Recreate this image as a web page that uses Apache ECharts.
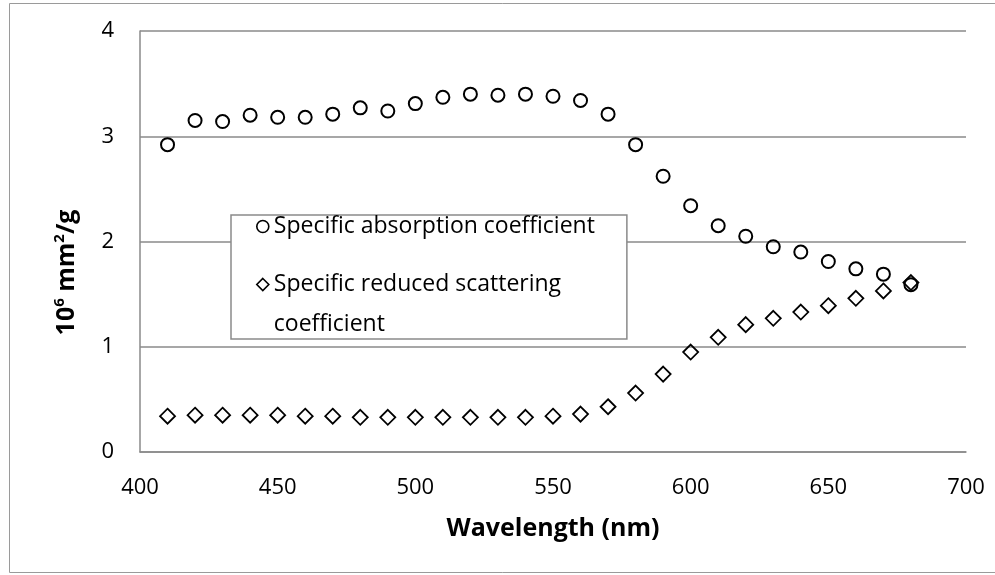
<!DOCTYPE html>
<html>
<head>
<meta charset="utf-8">
<title>Specific coefficients vs wavelength</title>
<script src="https://cdn.jsdelivr.net/npm/echarts@6/dist/echarts.min.js"></script>
<style>
  html, body { margin: 0; padding: 0; background: #fff; }
  #chart { width: 995px; height: 575px; }
</style>
</head>
<body>
<div id="chart"></div>
<script>
// Wavelength samples (nm)
const wavelengths = [410, 420, 430, 440, 450, 460, 470, 480, 490, 500, 510, 520, 530, 540,
                     550, 560, 570, 580, 590, 600, 610, 620, 630, 640, 650, 660, 670, 680];

// Specific absorption coefficient (10^6 mm^2/g)
const absorption = [2.92, 3.15, 3.14, 3.20, 3.18, 3.18, 3.21, 3.27, 3.24, 3.31, 3.37, 3.40, 3.39, 3.40,
                    3.38, 3.34, 3.21, 2.92, 2.62, 2.34, 2.15, 2.05, 1.95, 1.90, 1.81, 1.74, 1.69, 1.59];

// Specific reduced scattering coefficient (10^6 mm^2/g)
const scattering = [0.34, 0.35, 0.35, 0.35, 0.35, 0.34, 0.34, 0.33, 0.33, 0.33, 0.33, 0.33, 0.33, 0.33,
                    0.34, 0.36, 0.43, 0.56, 0.74, 0.95, 1.09, 1.21, 1.27, 1.33, 1.39, 1.46, 1.53, 1.61];

const seriesNames = ['Specific absorption coefficient', 'Specific reduced scattering coefficient'];
const xTicks = { min: 400, max: 700, step: 50 };
const yTicks = { min: 0, max: 4, step: 1 };

const FONT = 'Open Sans';
const GRID_COLOR = '#8a8a8a';
const LEGEND_FONT = 23;

function pairs(xs, ys) {
  return xs.map((x, i) => [x, ys[i]]);
}

const chart = echarts.init(document.getElementById('chart'), null, { renderer: 'canvas' });

chart.setOption({
  animation: false,
  backgroundColor: '#fff',
  grid: { left: 140, right: 29, top: 31, bottom: 123, containLabel: false },
  graphic: [{
    type: 'rect',
    silent: true,
    z: -10,
    shape: { x: 9.5, y: 3.5, width: 1000, height: 569 },
    style: { fill: 'none', stroke: '#9a9a9a', lineWidth: 1 }
  }],
  xAxis: {
    type: 'value',
    min: xTicks.min,
    max: xTicks.max,
    interval: xTicks.step,
    name: 'Wavelength (nm)',
    nameLocation: 'middle',
    nameGap: 62,
    nameTextStyle: { fontFamily: FONT, fontWeight: 'bold', fontSize: 25, color: '#000', lineHeight: 30 },
    axisLine: { show: true, onZero: false, lineStyle: { color: GRID_COLOR, width: 1.5 } },
    axisTick: { show: false },
    splitLine: { show: false },
    axisLabel: { margin: 25, fontFamily: FONT, fontSize: 22, color: '#000' }
  },
  yAxis: {
    type: 'value',
    min: yTicks.min,
    max: yTicks.max,
    interval: yTicks.step,
    name: '{b|10}{s|6}{b| mm}{s|2}{b|/g}',
    nameLocation: 'middle',
    nameGap: 58,
    nameTextStyle: {
      padding: [0, 62, 0, 0],
      rich: {
        b: { fontFamily: FONT, fontWeight: 'bold', fontSize: 25, color: '#000', lineHeight: 30 },
        s: { fontFamily: FONT, fontWeight: 'bold', fontSize: 15, color: '#000', lineHeight: 16, verticalAlign: 'top' }
      }
    },
    axisLine: { show: true, lineStyle: { color: GRID_COLOR, width: 1.5 } },
    axisTick: { show: false },
    splitLine: { show: true, lineStyle: { color: GRID_COLOR, width: 1.5 } },
    axisLabel: { margin: 26, fontFamily: FONT, fontSize: 22, color: '#000' }
  },
  legend: {
    orient: 'vertical',
    left: 231,
    top: 215,
    padding: [0, 32, 3, 25],
    itemWidth: 12,
    itemHeight: 12,
    itemGap: -5,
    backgroundColor: '#fff',
    borderColor: GRID_COLOR,
    borderWidth: 1.5,
    selectedMode: false,
    data: [
      { name: seriesNames[0], icon: 'circle',
        itemStyle: { color: 'rgba(0,0,0,0)', borderColor: '#000', borderWidth: 1.6 } },
      { name: seriesNames[1], icon: 'diamond',
        itemStyle: { color: 'rgba(0,0,0,0)', borderColor: '#000', borderWidth: 1.6 } }
    ],
    formatter: function (name) {
      if (name === seriesNames[0]) {
        return '{one|' + name + '}';
      }
      return '{gap| }\n{two|Specific reduced scattering}\n{three|coefficient}';
    },
    textStyle: {
      fontFamily: FONT,
      fontSize: LEGEND_FONT,
      color: '#000',
      rich: {
        one: { fontFamily: FONT, fontSize: LEGEND_FONT, color: '#000', lineHeight: 20 },
        gap: { fontFamily: FONT, fontSize: LEGEND_FONT, color: '#000', lineHeight: 30 },
        two: { fontFamily: FONT, fontSize: LEGEND_FONT, color: '#000', lineHeight: 50 },
        three: { fontFamily: FONT, fontSize: LEGEND_FONT, color: '#000', lineHeight: 30 }
      }
    }
  },
  series: [
    {
      name: seriesNames[0],
      type: 'scatter',
      symbol: 'circle',
      symbolSize: 13,
      itemStyle: { color: 'rgba(0,0,0,0)', borderColor: '#000', borderWidth: 2, opacity: 1 },
      data: pairs(wavelengths, absorption)
    },
    {
      name: seriesNames[1],
      type: 'scatter',
      symbol: 'diamond',
      symbolSize: [15, 15],
      itemStyle: { color: 'rgba(0,0,0,0)', borderColor: '#000', borderWidth: 1.8, opacity: 1 },
      data: pairs(wavelengths, scattering)
    }
  ]
});
</script>
</body>
</html>
